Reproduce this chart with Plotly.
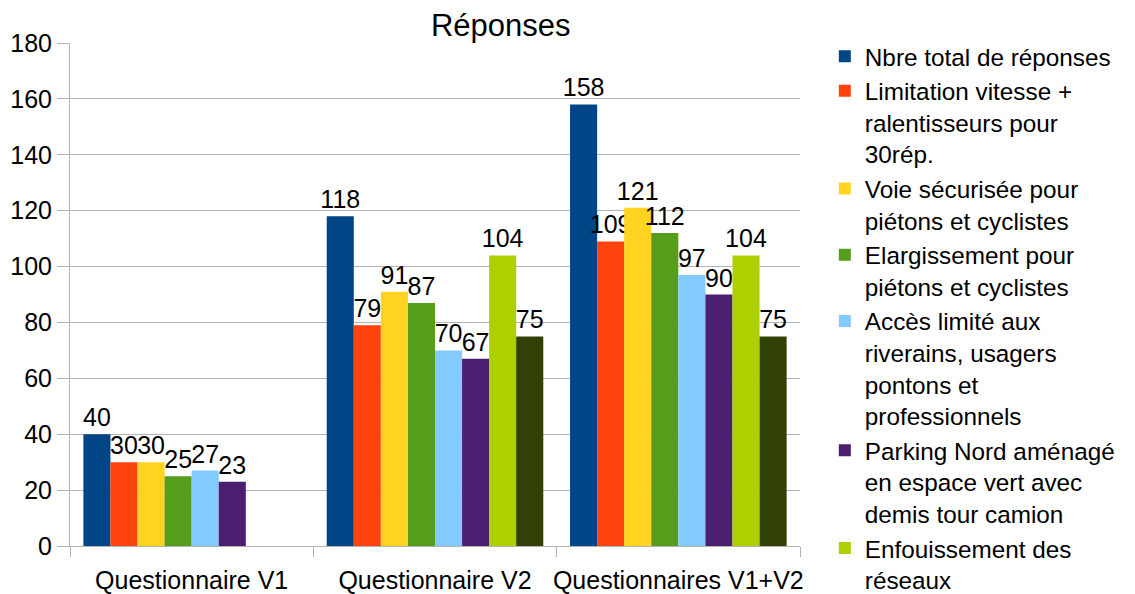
import plotly.graph_objects as go

categories = ["Questionnaire V1", "Questionnaire V2", "Questionnaires V1+V2"]
series_names = [
    "Nbre total de réponses",
    "Limitation vitesse +<br>ralentisseurs pour<br>30rép.",
    "Voie sécurisée pour<br>piétons et cyclistes",
    "Elargissement pour<br>piétons et cyclistes",
    "Accès limité aux<br>riverains, usagers<br>pontons et<br>professionnels",
    "Parking Nord aménagé<br>en espace vert avec<br>demis tour camion",
    "Enfouissement des<br>réseaux",
    "Série 8",
]
values = [
    [40, 118, 158],
    [30, 79, 109],
    [30, 91, 121],
    [25, 87, 112],
    [27, 70, 97],
    [23, 67, 90],
    [None, 104, 104],
    [None, 75, 75],
]
colors = ["#004586", "#ff420e", "#ffd320", "#579d1c", "#83caff", "#4b1f6f", "#aecf00", "#314004"]
legend_visible = [True, True, True, True, True, True, True, False]

fig = go.Figure()
for i, (name, vals) in enumerate(zip(series_names, values)):
    fig.add_trace(go.Bar(
        x=categories, y=vals, name=name,
        marker=dict(color=colors[i], line=dict(width=0)),
        text=[str(v) if v is not None else "" for v in vals],
        textposition="outside", constraintext="none", cliponaxis=False,
        textfont=dict(size=25, color="black", family="Liberation Sans"),
        showlegend=legend_visible[i], legendgroup=f"g{i}",
    ))

fig.update_layout(
    width=1127, height=586,
    margin=dict(l=62, r=335, t=35, b=48, autoexpand=False),
    paper_bgcolor="white", plot_bgcolor="white",
    font=dict(family="Liberation Sans", size=25, color="black"),
    barmode="group", bargap=0.11, bargroupgap=0,
    title=dict(text="Réponses", x=0.59, xref="paper", xanchor="center",
               y=0.971, yref="container", yanchor="middle",
               font=dict(size=31, color="black")),
    legend=dict(x=1.034, xanchor="left", y=1.018, yanchor="top",
                font=dict(size=24.3, color="black"), traceorder="grouped",
                tracegroupgap=0, bgcolor="rgba(0,0,0,0)", itemwidth=30,
                valign="top", maxheight=600),
    xaxis=dict(showline=True, linecolor="#b3b3b3", linewidth=1,
               ticks="outside", tickson="boundaries", ticklen=10, tickcolor="#b3b3b3",
               tickfont=dict(size=25), tickangle=0, showgrid=False, automargin=False,
               ticklabelstandoff=12),
    yaxis=dict(range=[0, 180], dtick=20, showline=True, linecolor="#b3b3b3",
               showgrid=True, gridcolor="#b3b3b3", gridwidth=1,
               ticks="outside", ticklen=12, tickcolor="#b3b3b3",
               tickfont=dict(size=25), zeroline=False, automargin=False,
               ticklabelstandoff=0),
)

fig.write_html("out.html")
